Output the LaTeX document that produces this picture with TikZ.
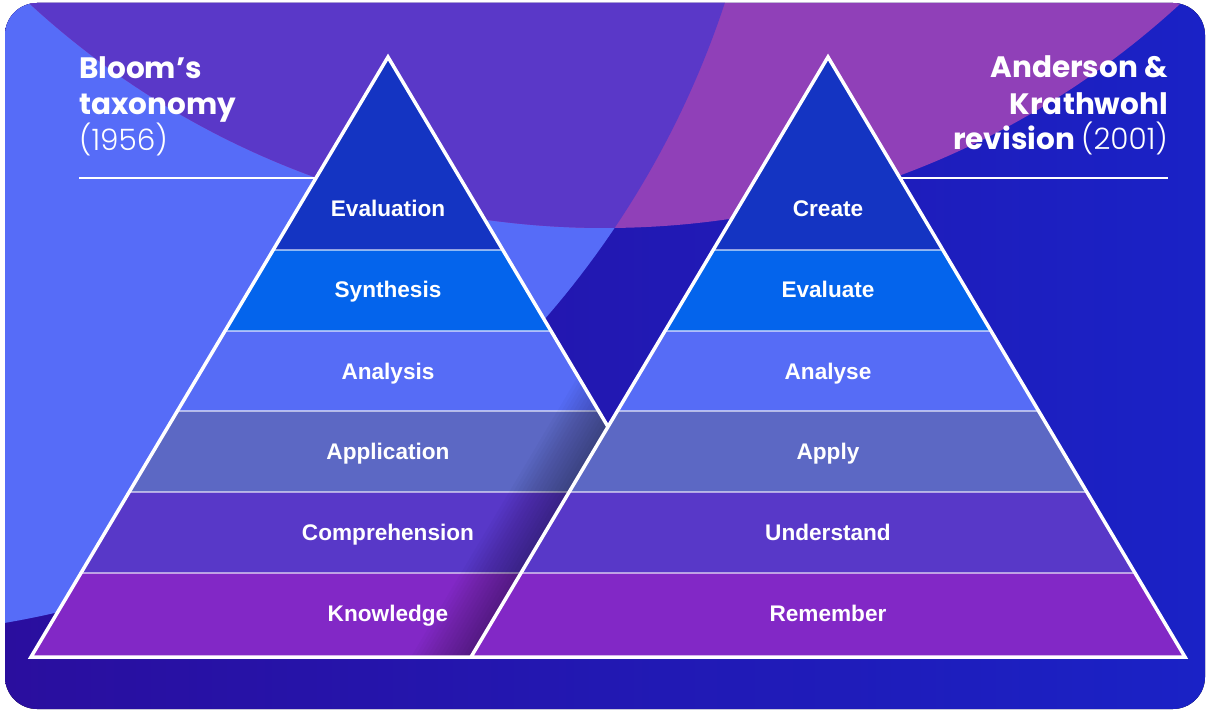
\documentclass[tikz,border=0pt]{standalone}
\usepackage{fontspec}
\setmainfont{Liberation Sans}
\newfontfamily\titlefont{Poppins}
\newfontfamily\yearfont{Poppins Light}
\usepackage{tikz}

\definecolor{bgdarkL}{HTML}{2A0E9E}
\definecolor{bgdarkR}{HTML}{1A22C6}
\definecolor{bglight}{HTML}{566CF8}
\definecolor{bgpurple}{HTML}{5A38C8}
\definecolor{bgmagenta}{HTML}{9040B8}
\definecolor{lvlA}{HTML}{1434C2}
\definecolor{lvlB}{HTML}{0464EC}
\definecolor{lvlC}{HTML}{566CF6}
\definecolor{lvlD}{HTML}{5C68C4}
\definecolor{lvlE}{HTML}{5838C8}
\definecolor{lvlF}{HTML}{8228C6}

\begin{document}
\begin{tikzpicture}[x=1pt, y=-1pt,
  lvl/.style={font=\bfseries\fontsize{22.6}{25}\selectfont, text=white, anchor=base, inner sep=0pt},
  ttl/.style={font=\titlefont\bfseries\fontsize{29.5}{36}\selectfont, text=white, inner sep=0pt},
  edge/.style={draw=white, line width=3.5pt, line join=miter},
  divider/.style={draw=white, draw opacity=0.55, line width=1.2pt},
  rule/.style={draw=white, line width=1.8pt}]

\useasboundingbox (0,0) rectangle (1207,711);

%% background
\begin{scope}
\clip[rounded corners=32pt] (5,3) rectangle (1205,709);
\fill[left color=bgdarkL, right color=bgdarkR] (0,0) rectangle (1207,711);
\fill[bglight] (-151,-286) circle (922pt);
\clip (605,-622) circle (850pt);
\fill[bgmagenta] (0,0) rectangle (1207,711);
\fill[bgpurple] (-151,-286) circle (922pt);
\end{scope}

%% title rules
\coordinate (ruleBa) at (79,178);
\coordinate (ruleBb) at (340,178);
\coordinate (ruleAa) at (880,178);
\coordinate (ruleAb) at (1168,178);
\draw[rule] (ruleBa) -- (ruleBb);
\draw[rule] (ruleAa) -- (ruleAb);

%% pyramid corners
\coordinate (bTop) at (388,57);  %% Bloom apex
\coordinate (bR) at (745,657);
\coordinate (bL) at (31,657);
\coordinate (aTop) at (828,57);  %% Anderson apex
\coordinate (aR) at (1185,657);
\coordinate (aL) at (471,657);

%% Bloom pyramid
\begin{scope}
\clip (bTop) -- (bR) -- (bL) -- cycle;
\fill[lvlA] (0,40) rectangle (1207,250);
\fill[lvlB] (0,250) rectangle (1207,331);
\fill[lvlC] (0,331) rectangle (1207,411);
\fill[lvlD] (0,411) rectangle (1207,492);
\fill[lvlE] (0,492) rectangle (1207,573);
\fill[lvlF] (0,573) rectangle (1207,660);
\draw[divider] (0,250) -- (1207,250);
\draw[divider] (0,331) -- (1207,331);
\draw[divider] (0,411) -- (1207,411);
\draw[divider] (0,492) -- (1207,492);
\draw[divider] (0,573) -- (1207,573);
%% shadow of the other pyramid
\foreach \d in {4,8,...,60}
  \fill[black, fill opacity=0.022] (aTop) -- (aL) -- (471-\d,657) -- (828-\d,57) -- cycle;
\end{scope}
\draw[edge] (bTop) -- (bR) -- (bL) -- cycle;

%% Anderson pyramid
\begin{scope}
\clip (aTop) -- (aR) -- (aL) -- cycle;
\fill[lvlA] (0,40) rectangle (1207,250);
\fill[lvlB] (0,250) rectangle (1207,331);
\fill[lvlC] (0,331) rectangle (1207,411);
\fill[lvlD] (0,411) rectangle (1207,492);
\fill[lvlE] (0,492) rectangle (1207,573);
\fill[lvlF] (0,573) rectangle (1207,660);
\draw[divider] (0,250) -- (1207,250);
\draw[divider] (0,331) -- (1207,331);
\draw[divider] (0,411) -- (1207,411);
\draw[divider] (0,492) -- (1207,492);
\draw[divider] (0,573) -- (1207,573);
\end{scope}
\draw[edge] (aTop) -- (aR) -- (aL) -- cycle;

%% level labels
\node[lvl] (evaluation) at (388,217) {Evaluation};
\node[lvl] (synthesis) at (388,298) {Synthesis};
\node[lvl] (analysis) at (388,379) {Analysis};
\node[lvl] (application) at (388,459) {Application};
\node[lvl] (comprehension) at (388,540) {Comprehension};
\node[lvl] (knowledge) at (388,621) {Knowledge};
\node[lvl] (create) at (828,217) {Create};
\node[lvl] (evaluate) at (828,298) {Evaluate};
\node[lvl] (analyse) at (828,379) {Analyse};
\node[lvl] (apply) at (828,459) {Apply};
\node[lvl] (understand) at (828,540) {Understand};
\node[lvl] (remember) at (828,621) {Remember};

%% titles
\node[ttl, anchor=base west] (bloomA) at (79,79) {Bloom’s};
\node[ttl, anchor=base west] (bloomB) at (79,115) {taxonomy};
\node[ttl, anchor=base west, font=\yearfont\fontsize{29.5}{36}\selectfont] (bloomC) at (79,151) {(1956)};
\node[ttl, anchor=base east] (andA) at (1168,78) {Anderson \&};
\node[ttl, anchor=base east] (andB) at (1168,115) {Krathwohl};
\node[ttl, anchor=base east] (andC) at (1168,150) {revision {\yearfont\mdseries(2001)}};
\end{tikzpicture}
\end{document}
